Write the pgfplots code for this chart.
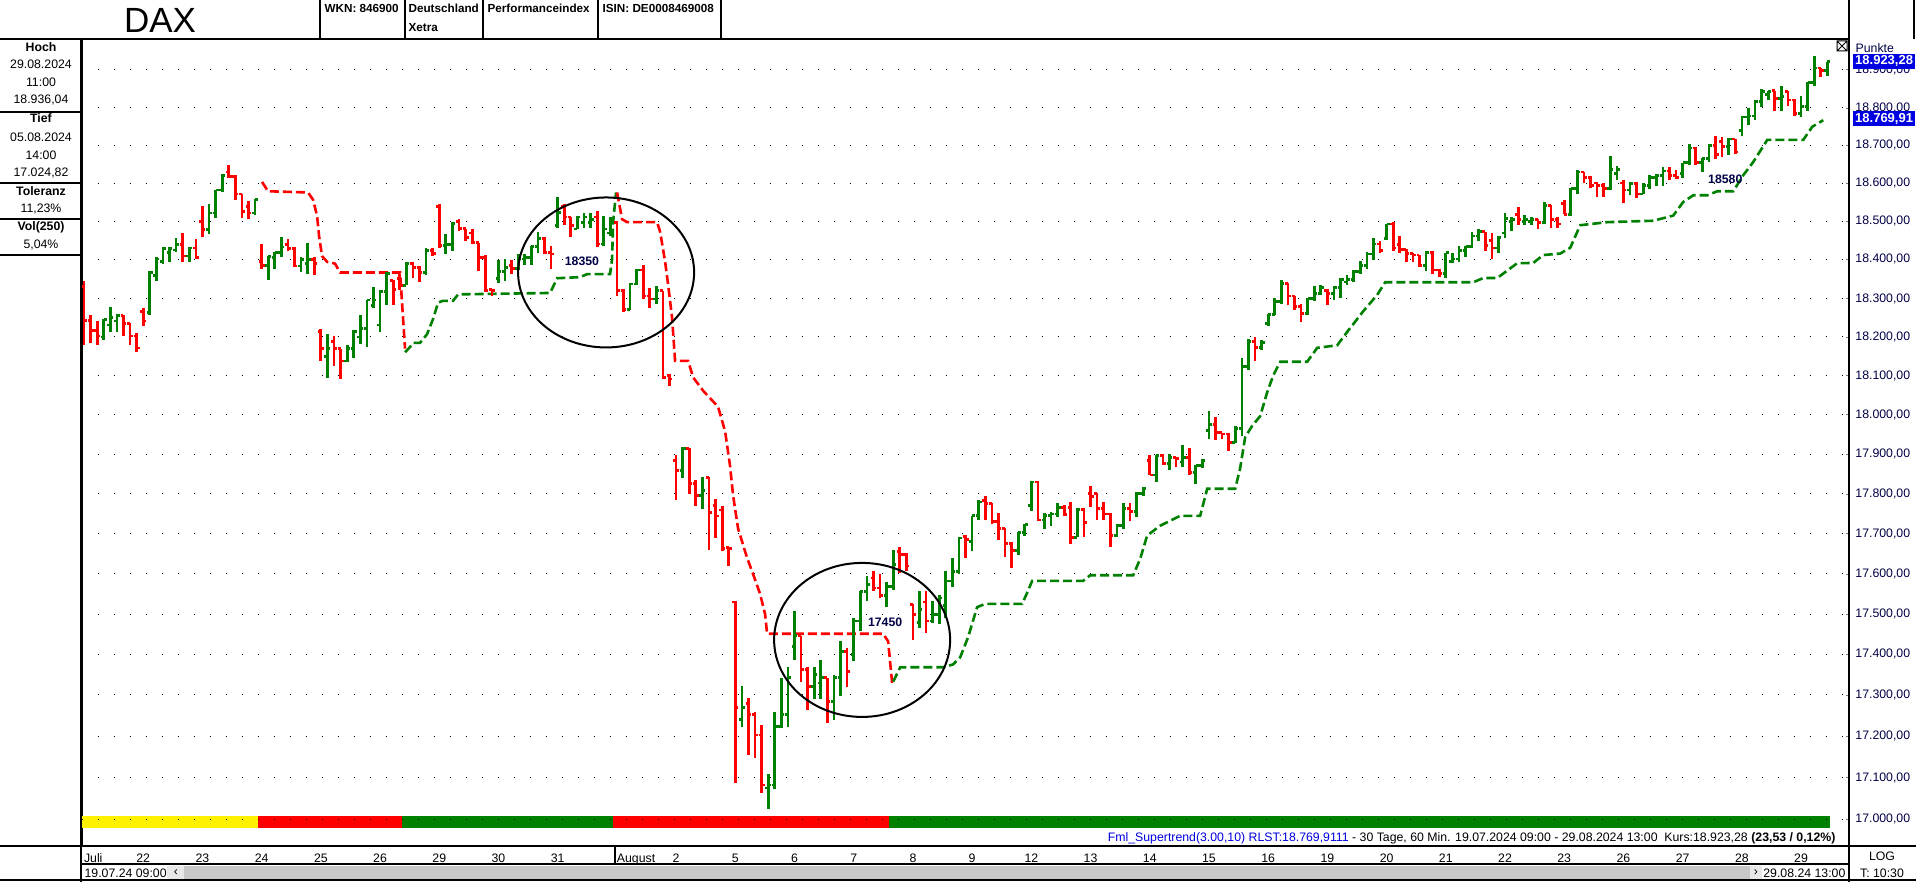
\documentclass[border=0pt]{standalone}
\usepackage{fontspec}
\setmainfont{Liberation Sans}
\usepackage{pgfplots}
\usepackage{pgfplotstable}
\pgfplotsset{compat=1.18}

\definecolor{tgreen}{RGB}{0,128,0}
\definecolor{tred}{RGB}{255,0,0}
\definecolor{tblue}{RGB}{0,0,225}
\definecolor{navy}{RGB}{0,0,70}
\newcommand\fs{\fontsize{6.15}{7.2}\selectfont}
\newcommand\hfs{\fontsize{5.85}{7}\selectfont}
\def\nanstring{nan}

% hourly OHLC bars: d = trading day (0 = 19.07.), t = hour slot (0 = 09:00)
\pgfplotstableread{
d t o hi lo c
0 0 18330 18343 18178 18242
0 1 18242 18255 18186 18216
0 2 18216 18242 18179 18203
0 3 18200 18246 18193 18245
0 4 18230 18278 18212 18250
0 5 18240 18261 18214 18255
0 6 18255 18257 18202 18236
0 7 18236 18236 18178 18203
0 8 18203 18210 18160 18171
1 0 18265 18274 18227 18240
1 1 18262 18370 18255 18367
1 2 18360 18406 18343 18403
1 3 18395 18432 18389 18428
1 4 18420 18432 18393 18428
1 5 18425 18456 18419 18440
1 6 18440 18469 18393 18410
1 7 18410 18432 18393 18430
1 8 18430 18453 18403 18406
2 0 18500 18540 18458 18478
2 1 18478 18544 18466 18522
2 2 18522 18583 18509 18581
2 3 18581 18624 18574 18621
2 4 18630 18647 18613 18617
2 5 18617 18621 18557 18571
2 6 18571 18571 18509 18527
2 7 18540 18553 18505 18522
2 8 18522 18559 18516 18557
3 0 18395 18442 18376 18382
3 1 18382 18410 18346 18409
3 2 18405 18419 18376 18419
3 3 18419 18458 18406 18432
3 4 18440 18453 18423 18428
3 5 18428 18434 18380 18384
3 6 18384 18406 18367 18402
3 7 18390 18445 18363 18402
3 8 18402 18406 18360 18389
4 0 18215 18221 18139 18169
4 1 18150 18205 18094 18169
4 2 18190 18202 18125 18169
4 3 18169 18169 18091 18139
4 4 18139 18177 18136 18169
4 5 18169 18216 18147 18214
4 6 18200 18255 18182 18221
4 7 18221 18296 18175 18294
4 8 18280 18328 18275 18294
5 0 18230 18320 18212 18317
5 1 18317 18367 18281 18363
5 2 18346 18346 18281 18324
5 3 18350 18363 18320 18334
5 4 18334 18393 18333 18389
5 5 18389 18393 18350 18380
5 6 18380 18384 18341 18367
5 7 18367 18428 18359 18423
5 8 18423 18428 18410 18416
6 0 18540 18544 18429 18436
6 1 18436 18466 18415 18440
6 2 18440 18498 18423 18492
6 3 18500 18505 18475 18481
6 4 18481 18481 18449 18458
6 5 18470 18479 18440 18443
6 6 18443 18443 18369 18406
6 7 18406 18412 18315 18320
6 8 18324 18324 18305 18320
7 0 18350 18399 18339 18369
7 1 18369 18403 18343 18379
7 2 18385 18399 18361 18378
7 3 18378 18416 18373 18403
7 4 18400 18416 18388 18405
7 5 18405 18437 18388 18433
7 6 18433 18472 18420 18455
7 7 18455 18459 18416 18418
7 8 18418 18437 18378 18414
8 0 18490 18564 18482 18523
8 1 18540 18544 18489 18510
8 2 18510 18510 18459 18489
8 3 18480 18514 18480 18510
8 4 18497 18523 18482 18510
8 5 18497 18523 18484 18506
8 6 18513 18527 18433 18442
8 7 18442 18514 18437 18480
8 8 18470 18510 18463 18497
9 0 18497 18500 18305 18318
9 1 18318 18322 18262 18271
9 2 18271 18339 18270 18337
9 3 18337 18378 18335 18373
9 4 18373 18386 18297 18305
9 5 18305 18327 18275 18297
9 6 18297 18331 18284 18318
9 7 18318 18318 18091 18096
9 8 18100 18104 18074 18091
10 0 17885 17898 17783 17860
10 1 17860 17920 17839 17915
10 2 17915 17915 17800 17826
10 3 17826 17834 17770 17796
10 4 17796 17843 17762 17809
10 5 17840 17843 17659 17753
10 6 17770 17787 17689 17745
10 7 17760 17771 17655 17664
10 8 17666 17666 17620 17662
11 0 17530 17532 17087 17270
11 1 17240 17322 17223 17269
11 2 17280 17293 17153 17252
11 3 17252 17260 17149 17203
11 4 17203 17227 17063 17083
11 5 17075 17108 17025 17083
11 6 17083 17260 17071 17223
11 7 17223 17343 17219 17252
11 8 17252 17367 17223 17343
12 0 17420 17507 17388 17446
12 1 17446 17446 17334 17363
12 2 17363 17367 17264 17322
12 3 17322 17369 17289 17351
12 4 17330 17386 17289 17343
12 5 17343 17343 17231 17285
12 6 17285 17351 17240 17343
12 7 17343 17433 17297 17409
12 8 17409 17417 17318 17359
13 0 17400 17491 17384 17483
13 1 17483 17557 17458 17557
13 2 17557 17594 17532 17573
13 3 17590 17606 17557 17565
13 4 17565 17598 17540 17545
13 5 17545 17578 17516 17569
13 6 17569 17660 17560 17623
13 7 17655 17668 17602 17648
13 8 17648 17652 17606 17619
14 0 17524 17524 17437 17500
14 1 17480 17557 17466 17512
14 2 17530 17557 17454 17483
14 3 17483 17532 17479 17499
14 4 17499 17545 17474 17540
14 5 17520 17606 17491 17582
14 6 17582 17639 17569 17606
14 7 17606 17693 17598 17689
14 8 17693 17697 17639 17685
15 0 17680 17746 17656 17746
15 1 17746 17784 17734 17779
15 2 17785 17793 17734 17776
15 3 17776 17776 17725 17730
15 4 17730 17751 17683 17713
15 5 17713 17714 17641 17675
15 6 17675 17679 17614 17658
15 7 17658 17704 17646 17703
15 8 17703 17725 17696 17725
16 0 17770 17832 17756 17830
16 1 17830 17832 17730 17734
16 2 17734 17751 17713 17746
16 3 17746 17755 17721 17750
16 4 17750 17776 17742 17767
16 5 17767 17772 17746 17748
16 6 17765 17780 17675 17692
16 7 17692 17763 17690 17761
16 8 17761 17763 17692 17728
17 0 17801 17820 17767 17793
17 1 17801 17801 17734 17763
17 2 17763 17780 17734 17750
17 3 17750 17751 17667 17696
17 4 17696 17725 17690 17721
17 5 17721 17778 17713 17763
17 6 17763 17776 17731 17756
17 7 17756 17806 17742 17801
17 8 17801 17817 17793 17814
18 0 17885 17898 17847 17847
18 1 17847 17898 17830 17896
18 2 17896 17902 17871 17877
18 3 17877 17902 17860 17891
18 4 17891 17893 17868 17889
18 5 17880 17923 17868 17891
18 6 17891 17914 17847 17854
18 7 17854 17872 17824 17871
18 8 17871 17887 17864 17885
19 0 17960 18011 17941 17977
19 1 17977 17994 17935 17956
19 2 17956 17956 17939 17952
19 3 17952 17956 17908 17931
19 4 17931 17973 17929 17964
19 5 17964 18146 17946 18123
19 6 18123 18196 18114 18187
19 7 18187 18200 18140 18172
19 8 18172 18192 18166 18186
20 0 18236 18261 18226 18258
20 1 18258 18298 18255 18291
20 2 18291 18347 18286 18338
20 3 18338 18338 18282 18304
20 4 18304 18306 18269 18278
20 5 18278 18286 18239 18261
20 6 18261 18299 18256 18298
20 7 18298 18330 18291 18312
20 8 18312 18334 18308 18328
21 0 18318 18323 18282 18312
21 1 18312 18330 18295 18328
21 2 18328 18351 18299 18349
21 3 18340 18358 18334 18347
21 4 18347 18373 18342 18368
21 5 18368 18394 18364 18385
21 6 18385 18418 18377 18414
21 7 18414 18455 18398 18441
21 8 18441 18446 18420 18424
22 0 18455 18493 18450 18493
22 1 18493 18497 18424 18429
22 2 18440 18463 18420 18427
22 3 18427 18427 18396 18416
22 4 18416 18420 18396 18411
22 5 18411 18413 18381 18385
22 6 18385 18424 18368 18420
22 7 18420 18424 18364 18373
22 8 18373 18377 18355 18364
23 0 18364 18420 18351 18420
23 1 18395 18420 18390 18403
23 2 18403 18437 18396 18424
23 3 18424 18437 18407 18433
23 4 18433 18472 18430 18463
23 5 18463 18480 18446 18472
23 6 18472 18472 18422 18437
23 7 18450 18469 18403 18429
23 8 18429 18463 18420 18459
24 0 18470 18523 18455 18508
24 1 18500 18513 18476 18506
24 2 18520 18536 18491 18506
24 3 18500 18516 18489 18506
24 4 18500 18513 18489 18506
24 5 18506 18506 18480 18497
24 6 18497 18551 18493 18541
24 7 18541 18543 18484 18506
24 8 18506 18511 18484 18493
25 0 18545 18557 18517 18519
25 1 18519 18587 18515 18585
25 2 18585 18634 18572 18630
25 3 18630 18630 18599 18616
25 4 18616 18619 18587 18594
25 5 18600 18603 18563 18594
25 6 18594 18601 18563 18585
25 7 18585 18672 18581 18634
25 8 18625 18645 18607 18634
26 0 18600 18607 18548 18581
26 1 18581 18603 18568 18599
26 2 18599 18603 18561 18572
26 3 18572 18599 18570 18594
26 4 18594 18621 18585 18616
26 5 18616 18625 18594 18621
26 6 18621 18643 18594 18631
26 7 18631 18643 18607 18621
26 8 18621 18634 18610 18616
27 0 18625 18654 18616 18652
27 1 18652 18704 18647 18693
27 2 18693 18696 18647 18652
27 3 18652 18669 18630 18665
27 4 18665 18704 18656 18700
27 5 18700 18726 18665 18674
27 6 18710 18722 18667 18696
27 7 18696 18719 18675 18718
27 8 18718 18718 18678 18682
28 0 18740 18779 18725 18775
28 1 18775 18799 18753 18779
28 2 18779 18819 18766 18815
28 3 18815 18850 18802 18841
28 4 18835 18845 18819 18841
28 5 18845 18845 18793 18823
28 6 18823 18859 18793 18830
28 7 18840 18845 18806 18819
28 8 18819 18823 18779 18784
29 0 18784 18832 18775 18801
29 1 18801 18867 18793 18867
29 2 18867 18936 18859 18907
29 3 18907 18907 18881 18898
29 4 18898 18923 18885 18923
}\bars

% supertrend, x in trading days
\pgfplotstableread{
x y
3.007 18603
3.108 18578
3.784 18576
3.868 18557
3.936 18514
3.970 18462
4.020 18410
4.105 18393
4.240 18389
4.324 18367
5.338 18367
5.422 18169
}\stRedA
\pgfplotstableread{
x y
5.422 18160
5.507 18173
5.557 18184
5.676 18184
5.794 18207
5.895 18246
5.980 18289
6.064 18293
6.233 18293
6.318 18309
7.872 18314
7.990 18352
8.378 18354
8.497 18361
8.885 18361
8.919 18403
8.936 18497
8.986 18574
}\stGreenA
\pgfplotstableread{
x y
9.003 18574
9.088 18506
9.172 18497
9.679 18497
9.730 18472
9.814 18395
9.865 18335
9.932 18250
9.983 18139
10.203 18139
10.287 18096
10.456 18062
10.709 18020
10.828 17958
10.912 17870
10.963 17795
11.047 17713
11.199 17640
11.301 17598
11.419 17549
11.503 17500
11.537 17452
13.497 17452
13.581 17433
13.649 17330
}\stRedB
\pgfplotstableread{
x y
13.666 17334
13.784 17367
13.902 17369
14.510 17369
14.679 17376
14.797 17392
14.932 17442
15.084 17516
15.220 17526
15.845 17526
15.929 17553
16.014 17583
16.875 17583
16.993 17596
17.720 17596
17.838 17637
17.956 17696
18.176 17721
18.514 17746
18.851 17746
18.970 17813
19.443 17813
19.527 17864
19.611 17942
19.730 17972
19.865 17998
19.983 18058
20.084 18101
20.203 18136
20.659 18136
20.828 18172
21.166 18177
21.334 18213
21.605 18265
21.841 18308
21.976 18342
23.463 18342
23.632 18351
23.868 18351
24.206 18390
24.476 18392
24.645 18411
24.932 18416
25.101 18431
25.270 18489
25.726 18497
26.503 18502
26.841 18515
27.010 18550
27.179 18568
27.416 18568
27.584 18578
27.855 18578
28.024 18621
28.193 18656
28.429 18713
29.037 18713
29.189 18748
29.375 18766
}\stGreenB

% collect the bars of the table into two coordinate streams (up / down),
% each bar = high-low stroke, open tick left, close tick right
\pgfplotstablegetrowsof{\bars}
\pgfmathtruncatemacro\lastbar{\pgfplotsretval-1}
\gdef\upbars{}\gdef\downbars{}
\foreach \i in {0,...,\lastbar}{%
  \pgfplotstablegetelem{\i}{d}\of\bars\let\D\pgfplotsretval
  \pgfplotstablegetelem{\i}{t}\of\bars\let\T\pgfplotsretval
  \pgfplotstablegetelem{\i}{o}\of\bars\let\O\pgfplotsretval
  \pgfplotstablegetelem{\i}{hi}\of\bars\let\H\pgfplotsretval
  \pgfplotstablegetelem{\i}{lo}\of\bars\let\L\pgfplotsretval
  \pgfplotstablegetelem{\i}{c}\of\bars\let\C\pgfplotsretval
  \pgfmathsetmacro\X{\D+\T/9}%
  \pgfmathsetmacro\XL{\X-0.05}%
  \pgfmathsetmacro\XR{\X+0.05}%
  \edef\seg{(\X,\L)(\X,\H)(\X,nan)(\XL,\O)(\X,\O)(\X,nan)(\X,\C)(\XR,\C)(\X,nan)}%
  \ifnum\C<\O\relax \xdef\downbars{\downbars\seg}\else\xdef\upbars{\upbars\seg}\fi
}

\pgfplotsset{
  trend/.style={#1, line width=1.3pt, dash pattern=on 4.5pt off 2pt},
  ohlc/.style={#1, line width=1.35pt, unbounded coords=jump, line cap=butt},
}

\begin{document}
\begin{tikzpicture}
\useasboundingbox (0pt,0pt) rectangle (958pt,-441pt);
\clip (0pt,0pt) rectangle (958pt,-441pt);

\begin{axis}[
  at={(41pt,-423pt)}, anchor=south west,
  scale only axis, width=883.5pt, height=403.5pt,
  % logarithmic price scale (narrow range, so done as a coordinate transform)
  y coord trafo/.code={%
    \def\tmparg{#1}%
    \ifx\tmparg\nanstring
      \def\pgfmathresult{nan}%
    \else
      \begingroup
      \pgfkeys{/pgf/fpu=true,/pgf/fpu/output format=fixed}%
      \pgfmathparse{ln(#1)}%
      \global\let\logresult\pgfmathresult
      \endgroup
      \let\pgfmathresult\logresult
    \fi},
  xmin=-0.034, xmax=29.81,
  ymin=16935, ymax=18983,
  clip=false,
  axis line style={line width=0.6pt},
  xtick={0,...,29},
  xticklabels={\rlap{Juli},22,23,24,25,26,29,30,31,\rlap{August},2,5,6,7,8,9,12,13,14,15,16,19,20,21,22,23,26,27,28,29},
  xtick style={draw=none},
  xticklabel style={font=\fs, anchor=base, yshift=-8pt},
  ytick={17000,17100,17200,17300,17400,17500,17600,17700,17800,17900,18000,18100,18200,18300,18400,18500,18600,18700,18800,18900},
  yticklabels={{17.000,00},{17.100,00},{17.200,00},{17.300,00},{17.400,00},{17.500,00},{17.600,00},{17.700,00},{17.800,00},{17.900,00},{18.000,00},{18.100,00},{18.200,00},{18.300,00},{18.400,00},{18.500,00},{18.600,00},{18.700,00},{18.800,00},{18.900,00}},
  ytick pos=right, yticklabel pos=right,
  tick align=inside, major tick length=1.5pt, yminorticks=false,
  yticklabel style={font=\fs, text=navy, anchor=west, inner sep=0pt, xshift=3pt},
  ymajorgrids,
  major grid style={line width=0.5pt, black, dash pattern=on 0.5pt off 7.5pt},
]

% supertrend state strip
\fill[yellow] (axis cs:-0.034,17007.2) rectangle (axis cs:2.94,16978.4);
\fill[tred]   (axis cs:2.94,17007.2) rectangle (axis cs:5.37,16978.4);
\fill[tgreen] (axis cs:5.37,17007.2) rectangle (axis cs:8.94,16978.4);
\fill[tred]   (axis cs:8.94,17007.2) rectangle (axis cs:13.6,16978.4);
\fill[tgreen] (axis cs:13.6,17007.2) rectangle (axis cs:29.49,16978.4);
\draw[line width=0.5pt, dash pattern=on 0.5pt off 7.5pt] (axis cs:-0.034,17000) -- (axis cs:29.81,17000);

% supertrend line
\addplot[trend=tred] table {\stRedA};
\addplot[trend=tgreen] table {\stGreenA};
\addplot[trend=tred] table {\stRedB};
\addplot[trend=tgreen] table {\stGreenB};

% OHLC bars
\edef\cmd{\noexpand\addplot[ohlc=tgreen] coordinates {\upbars};}\cmd
\edef\cmd{\noexpand\addplot[ohlc=tred] coordinates {\downbars};}\cmd

% annotations
\draw[line width=1pt] (axis cs:8.818,18367) ellipse [x radius=44pt, y radius=37.5pt];
\draw[line width=1pt] (axis cs:13.142,17436) ellipse [x radius=44pt, y radius=38.5pt];
\node[font=\bfseries\fs, text=navy] at (axis cs:8.41,18394) {18350};
\node[font=\bfseries\fs, text=navy] at (axis cs:13.53,17480) {17450};
\node[font=\bfseries\fs, text=navy] at (axis cs:27.72,18611) {18580};

% price tags on the right axis (they cover the 18.900 label as in the original)
\node[fill=tblue, text=white, font=\bfseries\fontsize{6.5}{7}\selectfont, anchor=west, inner sep=0.9pt, xshift=2pt]
  at (axis cs:29.81,18923.28) {18.923,28};
\node[fill=tblue, text=white, font=\bfseries\fontsize{6.5}{7}\selectfont, anchor=west, inner sep=0.9pt, xshift=2pt]
  at (axis cs:29.81,18769.91) {18.769,91};
\end{axis}

\begin{scope}[x=0.5pt, y=-0.5pt, line width=0.6pt]
% header
\draw (0,39) -- (1849,39);
\foreach \xx in {320,405,483,598,721} \draw (\xx,0) -- (\xx,39);
\draw (1849,0) -- (1849,882);
\draw (1914,0) -- (1914,39);
\node[font=\fontsize{17.5}{20}\selectfont] at (160,20) {DAX};
\node[anchor=north west, inner sep=0pt, font=\bfseries\hfs] at (324,3.5) {WKN: 846900};
\node[anchor=north west, inner sep=0pt, font=\bfseries\hfs] at (408,3.5) {Deutschland};
\node[anchor=north west, inner sep=0pt, font=\bfseries\hfs] at (408,22.5) {Xetra};
\node[anchor=north west, inner sep=0pt, font=\bfseries\hfs] at (487,3.5) {Performanceindex};
\node[anchor=north west, inner sep=0pt, font=\bfseries\hfs] at (602,3.5) {ISIN: DE0008469008};
% close box and unit
\draw[line width=0.5pt] (1837,41) rectangle (1847,51) (1837,41) -- (1847,51) (1837,51) -- (1847,41);
\node[anchor=west, inner sep=0pt, font=\fs, text=navy] at (1855,48) {Punkte};

% left info panel
\draw (81,39) -- (81,882);
\foreach \yy in {112,183,219,255} \draw (0,\yy) -- (81,\yy);
\node[font=\bfseries\fs] at (41,47) {Hoch};
\node[font=\fs] at (41,64) {29.08.2024};
\node[font=\fs] at (41,82) {11:00};
\node[font=\fs] at (41,100) {18.936,04};
\node[font=\bfseries\fs] at (41,118) {Tief};
\node[font=\fs] at (41,137) {05.08.2024};
\node[font=\fs] at (41,155) {14:00};
\node[font=\fs] at (41,173) {17.024,82};
\node[font=\bfseries\fs] at (41,191) {Toleranz};
\node[font=\fs] at (41,209) {11,23\%};
\node[font=\bfseries\fs] at (41,227) {Vol(250)};
\node[font=\fs] at (41,245) {5,04\%};

% footer line of the chart
\node[anchor=base east, inner sep=0pt, font=\fontsize{6.15}{7}\selectfont] at (1836,841)
  {\textcolor{tblue}{Fml\_Supertrend(3.00,10) RLST:18.769,9111} - 30 Tage, 60 Min. 19.07.2024 09:00 - 29.08.2024 13:00\ \ Kurs:18.923,28 \textbf{(23,53 / 0,12\%)}};

% time axis rows and scroll bar
\draw (0,846) -- (1916,846);
\draw (82,864) -- (1849,864);
\draw (0,880) -- (1916,880);
\draw (615,846) -- (615,864);
\fill[gray!18] (167,866) rectangle (184,879);
\fill[gray!43] (184,866) rectangle (1750,879);
\fill[gray!18] (1750,866) rectangle (1762,879);
\node[font=\fs] at (176,872.5) {‹};
\node[font=\fs] at (1756,872.5) {›};
\node[anchor=west, inner sep=0pt, font=\fs] at (84,873) {19.07.24 09:00};
\node[anchor=east, inner sep=0pt, font=\fs] at (1846,873) {29.08.24 13:00};
\node[font=\fs] at (1882,856) {LOG};
\node[font=\fs] at (1882,873) {T: 10:30};
\end{scope}
\end{tikzpicture}
\end{document}
